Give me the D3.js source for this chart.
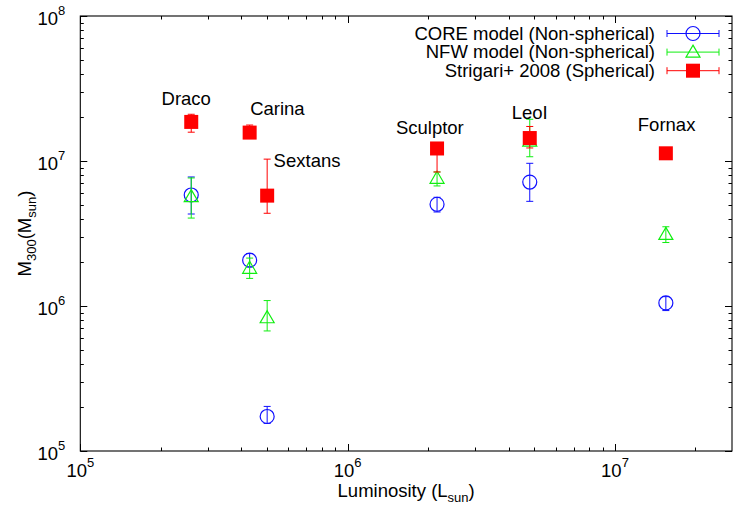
<!DOCTYPE html>
<html>
<head>
<meta charset="utf-8">
<script src="https://cdn.jsdelivr.net/npm/d3@7"></script>
<style>
  body { margin: 0; background: #fff; }
  svg text { font-family: "Liberation Sans", Arial, Helvetica, sans-serif; fill: #000; }
</style>
</head>
<body>
<svg id="chart" width="734" height="513"></svg>
<script>
(function (d3, undefined) {
    'use strict';

    // galaxies and luminosity (L_sun)
    var galaxies = ['Draco', 'Carina', 'Sextans', 'Sculptor', 'LeoI', 'Fornax'];
    var luminosity = [2.6e5, 4.3e5, 5.0e5, 2.16e6, 4.8e6, 1.55e7];

    // M300 (M_sun) with lower / upper error ends
    var coreM   = [5.83e6, 2.07e6, 1.73e5, 5.03e6, 7.16e6, 1.05e6];
    var coreLo  = [4.31e6, 1.86e6, 1.55e5, 4.45e6, 5.27e6, 9.3e5];
    var coreHi  = [7.76e6, 2.30e6, 2.03e5, 5.62e6, 9.64e6, 1.16e6];

    var nfwM    = [5.68e6, 1.82e6, 8.3e5, 7.6e6, 1.37e7, 3.12e6];
    var nfwLo   = [4.04e6, 1.55e6, 6.73e5, 6.73e6, 1.07e7, 2.74e6];
    var nfwHi   = [7.64e6, 2.14e6, 1.09e6, 8.4e6, 1.94e7, 3.52e6];

    var strigM  = [1.86e7, 1.57e7, 5.77e6, 1.22e7, 1.44e7, 1.13e7];
    var strigLo = [1.58e7, 1.45e7, 4.36e6, 8.4e6, 1.23e7, 1.06e7];
    var strigHi = [2.10e7, 1.77e7, 1.03e7, 1.32e7, 1.73e7, 1.20e7];

    // where each galaxy name sits, in data units
    var labelL = [2.49e5, 5.46e5, 7.05e5, 2.03e6, 4.8e6, 1.56e7];
    var labelM = [2.43e7, 2.07e7, 9.1e6, 1.53e7, 1.95e7, 1.61e7];

    var seriesNames = ['CORE model (Non-spherical)', 'NFW model (Non-spherical)', 'Strigari+ 2008 (Spherical)'];
    var xTicks = [1e5, 1e6, 1e7];
    var yTicks = [1e5, 1e6, 1e7, 1e8];

    var left = 80.3, right = 732, top = 16, bottom = 451;
    var svg = d3.select('#chart');

    var x = d3.scaleLog().domain([1e5, 2.74e7]).range([left, right]);
    var y = d3.scaleLog().domain([1e5, 1e8]).range([bottom, top]);

    function minorTicks(scale) {
        return scale.ticks().filter(function (t) {
            var e = Math.log10(t);
            return Math.abs(e - Math.round(e)) > 1e-6;
        });
    }

    // ticks, mirrored on all four sides, pointing inward
    var tickG = svg.append('g').attr('stroke', '#000').attr('stroke-width', 1);
    function drawTicks(vals, len) {
        vals.forEach(function (t) {
            var px = Math.round(x(t)) + 0.5;
            tickG.append('line').attr('x1', px).attr('x2', px).attr('y1', bottom).attr('y2', bottom - len);
            tickG.append('line').attr('x1', px).attr('x2', px).attr('y1', top).attr('y2', top + len);
        });
    }
    function drawYTicks(vals, len) {
        vals.forEach(function (t) {
            var py = Math.round(y(t)) + 0.5;
            tickG.append('line').attr('y1', py).attr('y2', py).attr('x1', left).attr('x2', left + len);
            tickG.append('line').attr('y1', py).attr('y2', py).attr('x1', right).attr('x2', right - len);
        });
    }
    drawTicks(xTicks, 7);
    drawTicks(minorTicks(x), 3.5);
    drawYTicks(yTicks, 7);
    drawYTicks(minorTicks(y), 3.5);

    svg.append('rect')
        .attr('x', left).attr('y', top)
        .attr('width', right - left).attr('height', bottom - top)
        .attr('fill', 'none').attr('stroke', '#000').attr('stroke-width', 1.1);

    // tick labels as 10^n
    xTicks.forEach(function (t) {
        var txt = svg.append('text')
            .attr('x', x(t)).attr('y', bottom + 26)
            .attr('text-anchor', 'middle')
            .style('font-size', '18.5px');
        txt.append('tspan').text('10');
        txt.append('tspan').attr('dy', -10).style('font-size', '13px').text(Math.round(Math.log10(t)));
    });
    yTicks.forEach(function (t) {
        var txt = svg.append('text')
            .attr('x', left - 15).attr('y', y(t) + 9)
            .attr('text-anchor', 'end')
            .style('font-size', '18.5px');
        txt.append('tspan').text('10');
        txt.append('tspan').attr('dy', -10).style('font-size', '13px').text(Math.round(Math.log10(t)));
    });

    // axis titles
    var xl = svg.append('text')
        .attr('x', (left + right) / 2).attr('y', 497)
        .attr('text-anchor', 'middle')
        .style('font-size', '18.5px');
    xl.append('tspan').text('Luminosity (L');
    xl.append('tspan').attr('dy', 5).style('font-size', '13px').text('sun');
    xl.append('tspan').attr('dy', -5).text(')');

    var yl = svg.append('text')
        .attr('transform', 'translate(31,' + ((top + bottom) / 2) + ') rotate(-90)')
        .attr('text-anchor', 'middle')
        .style('font-size', '18.5px');
    yl.append('tspan').text('M');
    yl.append('tspan').attr('dy', 5).style('font-size', '13px').text('300');
    yl.append('tspan').attr('dy', -5).text('(M');
    yl.append('tspan').attr('dy', 5).style('font-size', '13px').text('sun');
    yl.append('tspan').attr('dy', -5).text(')');

    var colors = ['#1010ff', '#10ee10', '#ff0000'];
    var cap = 3.5;

    function marker(g, kind, cx, cy, color) {
        if (kind === 'circle') {
            g.append('circle').attr('cx', cx).attr('cy', cy).attr('r', 7)
                .attr('fill', 'none').attr('stroke', color).attr('stroke-width', 1.2);
        } else if (kind === 'triangle') {
            g.append('path')
                .attr('d', 'M' + cx + ',' + (cy - 7) + 'L' + (cx + 7) + ',' + (cy + 5) + 'L' + (cx - 7) + ',' + (cy + 5) + 'Z')
                .attr('fill', 'none').attr('stroke', color).attr('stroke-width', 1.2);
        } else {
            g.append('rect').attr('x', cx - 7).attr('y', cy - 7).attr('width', 14).attr('height', 14)
                .attr('fill', color);
        }
    }

    function drawSeries(vals, lo, hi, kind, color) {
        var g = svg.append('g');
        luminosity.forEach(function (L, i) {
            var px = x(L);
            var yl0 = y(lo[i]), yh0 = y(hi[i]);
            g.append('line').attr('x1', px).attr('x2', px).attr('y1', yl0).attr('y2', yh0)
                .attr('stroke', color).attr('stroke-width', 1);
            [yl0, yh0].forEach(function (yy) {
                g.append('line').attr('x1', px - cap).attr('x2', px + cap).attr('y1', yy).attr('y2', yy)
                    .attr('stroke', color).attr('stroke-width', 1);
            });
            marker(g, kind, px, y(vals[i]), color);
        });
    }

    drawSeries(coreM, coreLo, coreHi, 'circle', colors[0]);
    drawSeries(nfwM, nfwLo, nfwHi, 'triangle', colors[1]);
    drawSeries(strigM, strigLo, strigHi, 'square', colors[2]);

    // galaxy names
    galaxies.forEach(function (name, i) {
        svg.append('text')
            .attr('x', x(labelL[i])).attr('y', y(labelM[i]))
            .attr('text-anchor', 'middle')
            .style('font-size', '18.5px')
            .text(name);
    });

    // legend
    var kinds = ['circle', 'triangle', 'square'];
    seriesNames.forEach(function (name, i) {
        var base = 39.5 + i * 18.6;
        var ly = base - 6;
        svg.append('text')
            .attr('x', 655).attr('y', base)
            .attr('text-anchor', 'end')
            .style('font-size', '18.5px')
            .text(name);
        var g = svg.append('g');
        g.append('line').attr('x1', 667).attr('x2', 719).attr('y1', ly).attr('y2', ly)
            .attr('stroke', colors[i]).attr('stroke-width', 1);
        [667, 719].forEach(function (xx) {
            g.append('line').attr('x1', xx).attr('x2', xx).attr('y1', ly - cap).attr('y2', ly + cap)
                .attr('stroke', colors[i]).attr('stroke-width', 1);
        });
        marker(g, kinds[i], 693, ly, colors[i]);
    });
})(d3);
</script>
</body>
</html>
